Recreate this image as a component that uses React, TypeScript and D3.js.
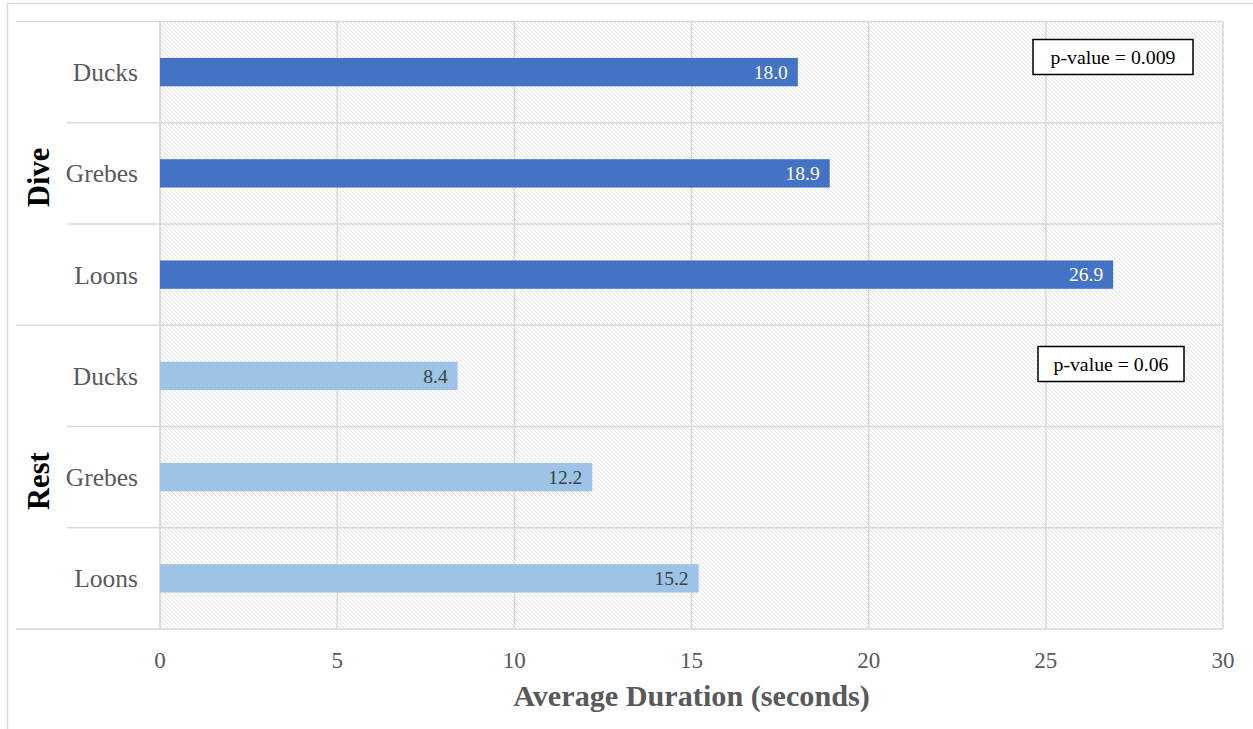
import React from "react";
import * as d3 from "d3";

const groups = ["Dive", "Rest"];
const species = ["Ducks", "Grebes", "Loons"];
const diveValues = [18.0, 18.9, 26.9];
const restValues = [8.4, 12.2, 15.2];
const xTicks = [0, 5, 10, 15, 20, 25, 30];
const pValueLabels = ["p-value = 0.009", "p-value = 0.06"];
const axisTitle = "Average Duration (seconds)";

const W = 1253;
const H = 729;
const FONT = "'Liberation Serif', 'Times New Roman', serif";

export default function App() {
  const left = 160;
  const right = 1223;
  const top = 21.5;
  const bottom = 629;

  const x = d3.scaleLinear().domain([0, 30]).range([left, right]);
  const rows = groups.flatMap((g, gi) =>
    species.map((s, si) => ({
      key: `${g}-${s}`,
      group: g,
      gi,
      species: s,
      value: gi === 0 ? diveValues[si] : restValues[si],
    }))
  );
  const y = d3
    .scaleBand<string>()
    .domain(rows.map((r) => r.key))
    .range([top, bottom])
    .paddingInner(0.72)
    .paddingOuter(0.36);
  const step = y.step();
  const rowTop = (i: number) => top + i * step;

  const colors = ["#4472C4", "#9DC3E6"];
  const labelColors = ["#FFFFFF", "#404040"];
  const grid = "#d9d9d9";

  const pBoxes = [
    { x: 1033, y: 39.5, w: 160, h: 35 },
    { x: 1038, y: 346.5, w: 146, h: 35 },
  ];

  return (
    <div style={{ position: "absolute", left: 0, top: 0 }}>
      <svg width={W} height={H} style={{ display: "block" }}>
        <defs>
          <pattern id="hatch" patternUnits="userSpaceOnUse" width={4} height={4}>
            <rect width={4} height={4} fill="#ffffff" />
            <path d="M-1,-1 L5,5 M-1,3 L1,5 M3,-1 L5,1" stroke="#e2e2e2" strokeWidth={1} />
          </pattern>
        </defs>
        <rect x={0} y={0} width={W} height={H} fill="#ffffff" />
        <rect x={7.5} y={3.5} width={W + 10} height={H + 10} fill="none" stroke={grid} strokeWidth={1.5} />
        <rect x={left} y={top} width={right - left} height={bottom - top} fill="url(#hatch)" />

        {/* vertical gridlines */}
        {xTicks.map((t) => (
          <line key={t} x1={x(t)} x2={x(t)} y1={top} y2={bottom} stroke={t === 0 ? "#d0d0d0" : grid} strokeWidth={1.5} />
        ))}

        {/* horizontal separators */}
        {d3.range(rows.length + 1).map((i) => {
          const isGroupEdge = i % species.length === 0;
          return (
            <line
              key={i}
              x1={isGroupEdge ? 16 : 67}
              x2={right}
              y1={rowTop(i)}
              y2={rowTop(i)}
              stroke={grid}
              strokeWidth={1.5}
            />
          );
        })}

        {/* bars */}
        {rows.map((r) => (
          <g key={r.key}>
            <rect
              x={x(0)}
              y={y(r.key)!}
              width={x(r.value) - x(0)}
              height={y.bandwidth()}
              fill={colors[r.gi]}
            />
            <text
              x={x(r.value) - 10}
              y={y(r.key)! + y.bandwidth() / 2}
              dy="0.35em"
              textAnchor="end"
              fontFamily={FONT}
              fontSize={19.5}
              fill={labelColors[r.gi]}
            >
              {r.value.toFixed(1)}
            </text>
            <text
              x={138}
              y={y(r.key)! + y.bandwidth() / 2}
              dy="0.35em"
              textAnchor="end"
              fontFamily={FONT}
              fontSize={25.5}
              fill="#595959"
            >
              {r.species}
            </text>
          </g>
        ))}

        {/* group labels */}
        {groups.map((g, gi) => {
          const cy = rowTop(gi * species.length) + (step * species.length) / 2 + 4;
          return (
            <text
              key={g}
              transform={`translate(38,${cy}) rotate(-90)`}
              textAnchor="middle"
              dy="0.35em"
              fontFamily={FONT}
              fontWeight="bold"
              fontSize={30.5}
              fill="#000000"
            >
              {g}
            </text>
          );
        })}

        {/* x tick labels */}
        {xTicks.map((t) => (
          <text
            key={t}
            x={x(t)}
            y={660}
            dy="0.35em"
            textAnchor="middle"
            fontFamily={FONT}
            fontSize={23}
            fill="#595959"
          >
            {t}
          </text>
        ))}

        <text
          x={(left + right) / 2}
          y={706}
          textAnchor="middle"
          fontFamily={FONT}
          fontWeight="bold"
          fontSize={30.2}
          fill="#595959"
        >
          {axisTitle}
        </text>

        {/* p-value annotations */}
        {pValueLabels.map((p, i) => {
          const b = pBoxes[i];
          return (
            <g key={p}>
              <rect x={b.x} y={b.y} width={b.w} height={b.h} fill="#ffffff" stroke="#000000" strokeWidth={1.5} />
              <text
                x={b.x + b.w / 2}
                y={b.y + b.h / 2}
                dy="0.35em"
                textAnchor="middle"
                fontFamily={FONT}
                fontSize={19.8}
                fill="#000000"
              >
                {p}
              </text>
            </g>
          );
        })}
      </svg>
    </div>
  );
}
